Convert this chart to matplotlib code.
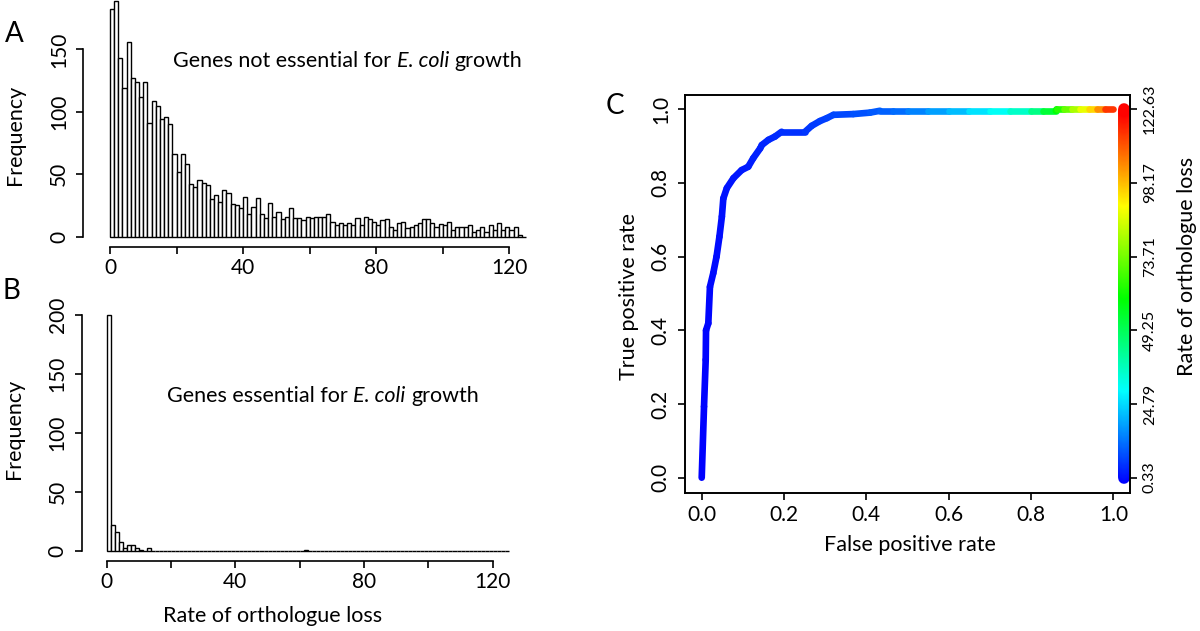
import numpy as np
import matplotlib
matplotlib.use("Agg")
import matplotlib.pyplot as plt
from matplotlib.collections import LineCollection
from matplotlib.colors import hsv_to_rgb

# ---------------- data ----------------
bin_edges = np.arange(0, 126.25, 1.25)   # 100 bins of width 1.25 from 0 to 125

counts_not_essential = [
    182, 189, 143, 119, 156, 127, 124, 112, 124, 91,
    109, 105, 94, 96, 90, 66, 52, 66, 58, 42,
    40, 45, 43, 41, 30, 33, 28, 37, 35, 26,
    25, 23, 32, 18, 24, 31, 18, 15, 27, 16,
    20, 14, 16, 23, 15, 15, 13, 16, 15, 16,
    16, 16, 18, 12, 9, 11, 9, 11, 9, 15,
    9, 16, 14, 12, 9, 13, 14, 8, 5, 11,
    12, 7, 8, 9, 11, 14, 14, 11, 8, 10,
    9, 12, 5, 8, 8, 8, 9, 4, 5, 8,
    4, 9, 5, 11, 5, 8, 5, 8, 1, 0]

counts_essential = [200, 22, 16, 7, 2, 5, 5, 2, 1, 0, 2] + [0] * 38 + [1] + [0] * 50

roc_fpr = [0.000, 0.0056, 0.0097, 0.0105, 0.016, 0.020, 0.028, 0.036, 0.043, 0.049,
           0.0525, 0.061, 0.077, 0.097, 0.113, 0.125, 0.142, 0.146, 0.162, 0.178,
           0.194, 0.251, 0.267, 0.287, 0.304, 0.320, 0.368, 0.409, 0.433, 0.465,
           0.50, 0.55, 0.60, 0.65, 0.70, 0.75, 0.80, 0.83, 0.86, 0.862,
           0.88, 0.90, 0.92, 0.94, 0.96, 0.98, 1.00]
roc_tpr = [0.000, 0.193, 0.320, 0.400, 0.419, 0.518, 0.555, 0.600, 0.654, 0.709,
           0.758, 0.786, 0.813, 0.835, 0.844, 0.867, 0.894, 0.903, 0.917, 0.926,
           0.939, 0.939, 0.955, 0.968, 0.976, 0.985, 0.987, 0.991, 0.996, 0.996,
           0.996, 0.996, 0.996, 0.996, 0.996, 0.996, 0.996, 0.996, 0.996, 1.000,
           1.000, 1.000, 1.000, 1.000, 1.000, 1.000, 1.000]
roc_rate = [0.33, 0.6, 0.8, 0.9, 1.0, 1.2, 1.4, 1.6, 1.8, 2.0,
            2.2, 2.5, 2.8, 3.2, 3.5, 3.8, 4.2, 4.4, 4.8, 5.2,
            5.6, 6.5, 7.0, 7.5, 8.0, 8.5, 9.5, 10.5, 11.5, 12.5,
            14, 18, 21, 25, 30, 34, 41, 50, 60, 62,
            70, 78, 86, 93, 101, 110, 122.63]

rate_ticks = [0.33, 24.79, 49.25, 73.71, 98.17, 122.63]
rate_min, rate_max = 0.33, 122.63

hist_xticks = [0, 20, 40, 60, 80, 100, 120]
hist_xticklabels = ["0", "", "40", "", "80", "", "120"]
roc_ticks = [0.0, 0.2, 0.4, 0.6, 0.8, 1.0]

# ---------------- style ----------------
plt.rcParams["font.family"] = ["Lato", "DejaVu Sans"]

W, H = 1200, 631
PT = 0.72  # points per pixel at dpi 100
fig = plt.figure(figsize=(12, 6.31), dpi=100)
renderer = fig.canvas.get_renderer()

TICK_FS = 15
LABEL_FS = 15.5


def rect(x0, y0, x1, y1):
    return [x0 / W, 1 - y1 / H, (x1 - x0) / W, (y1 - y0) / H]


def ftext(x, y, s, **kw):
    return fig.text(x / W, 1 - y / H, s, **kw)


def text_width(s, **kw):
    t = fig.text(0, 0, s, **kw)
    w = t.get_window_extent(renderer).width
    t.remove()
    return w


def rich_text(x, y, parts, fontsize):
    """parts: list of (string, fontstyle); strings are joined with single spaces."""
    space = (text_width("n n", fontsize=fontsize) - text_width("nn", fontsize=fontsize))
    cur = x
    for i, (s, style) in enumerate(parts):
        t = ftext(cur, y, s, fontsize=fontsize, fontstyle=style, ha="left", va="baseline")
        cur = cur + t.get_window_extent(renderer).width + space


def rate_color(v):
    f = np.clip((np.asarray(v, dtype=float) - rate_min) / (rate_max - rate_min), 0, 1)
    hsv = np.stack([(240.0 / 360.0) * (1 - f), np.ones_like(f), np.ones_like(f)], axis=-1)
    return hsv_to_rgb(hsv)


def style_hist(ax, left_out_px, bottom_out_px, ytop_tick, yticks):
    for s in ("top", "right"):
        ax.spines[s].set_visible(False)
    ax.spines["left"].set_position(("outward", left_out_px * PT))
    ax.spines["bottom"].set_position(("outward", bottom_out_px * PT))
    ax.spines["left"].set_bounds(0, ytop_tick)
    ax.spines["bottom"].set_bounds(0, 120)
    for s in ("left", "bottom"):
        ax.spines[s].set_linewidth(1.2)
    ax.set_xticks(hist_xticks)
    ax.set_xticklabels(hist_xticklabels)
    ax.set_yticks(yticks)
    ax.set_yticklabels([str(t) for t in yticks], rotation=90, va="center")
    ax.tick_params(axis="both", direction="out", length=5.2, width=1.2,
                   labelsize=TICK_FS)
    ax.tick_params(axis="x", pad=3)
    ax.tick_params(axis="y", pad=5)


# ---------------- panel A ----------------
axA = fig.add_axes(rect(110, 0, 110 + 125 * 3.328, 236.7))
axA.bar(bin_edges[:-1], counts_not_essential, width=1.25, align="edge",
        facecolor="white", edgecolor="black", linewidth=1.0, clip_on=False)
axA.set_xlim(0, 125)
axA.set_ylim(0, 189.5)
style_hist(axA, 26.7, 10.3, 150, [0, 50, 100, 150])
rich_text(173, 67, [("Genes not essential for", "normal"), ("E. coli", "italic"),
                    ("growth", "normal")], LABEL_FS)

# ---------------- panel B ----------------
axB = fig.add_axes(rect(106.7, 315, 106.7 + 125 * 3.2167, 550.7))
axB.bar(bin_edges[:-1], counts_essential, width=1.25, align="edge",
        facecolor="white", edgecolor="black", linewidth=1.0, clip_on=False)
axB.set_xlim(0, 125)
axB.set_ylim(0, 200)
style_hist(axB, 25.0, 10.3, 200, [0, 50, 100, 150, 200])
rich_text(167, 401.7, [("Genes essential for", "normal"), ("E. coli", "italic"),
                       ("growth", "normal")], LABEL_FS)

ftext(15, 135, "Frequency", rotation=90, fontsize=LABEL_FS, ha="center", va="center")
ftext(14, 429, "Frequency", rotation=90, fontsize=LABEL_FS, ha="center", va="center")
ftext(273, 616, "Rate of orthologue loss", fontsize=LABEL_FS, ha="center", va="center")
ftext(14, 34, "A", fontsize=20, ha="center", va="center")
ftext(11, 291, "B", fontsize=20, ha="center", va="center")

# ---------------- panel C ----------------
axC = fig.add_axes(rect(685, 95, 1130, 493.3))
axC.set_xlim(-0.0406, 1.0403)
axC.set_ylim(-0.0424, 1.0388)
for s in axC.spines.values():
    s.set_linewidth(1.2)

pts = np.column_stack([roc_fpr, roc_tpr])
segs = np.stack([pts[:-1], pts[1:]], axis=1)
seg_rate = 0.5 * (np.asarray(roc_rate[:-1]) + np.asarray(roc_rate[1:]))
lc = LineCollection(segs, colors=rate_color(seg_rate), linewidths=4.8,
                    capstyle="round", joinstyle="round", zorder=3)
axC.add_collection(lc)

# colour key drawn as a thick bar inside the plot at x = 1.026
key_y = np.linspace(0, 1, 300)
key_pts = np.column_stack([np.full_like(key_y, 1.026), key_y])
key_segs = np.stack([key_pts[:-1], key_pts[1:]], axis=1)
key_vals = rate_min + (rate_max - rate_min) * 0.5 * (key_y[:-1] + key_y[1:])
key_lc = LineCollection(key_segs, colors=rate_color(key_vals), linewidths=8.4,
                        capstyle="round", zorder=3)
axC.add_collection(key_lc)

axC.set_xticks(roc_ticks)
axC.set_xticklabels([f"{t:.1f}" for t in roc_ticks])
axC.set_yticks(roc_ticks)
axC.set_yticklabels([f"{t:.1f}" for t in roc_ticks], rotation=90, va="center")
axC.tick_params(axis="both", direction="out", length=5.2, width=1.2, labelsize=TICK_FS)
axC.tick_params(axis="y", pad=5)
axC.tick_params(axis="x", pad=3)

axR = axC.twinx()
axR.set_ylim(axC.get_ylim())
axR.set_yticks([(v - rate_min) / (rate_max - rate_min) for v in rate_ticks])
axR.set_yticklabels([f"{v:.2f}" for v in rate_ticks], rotation=90, va="center", ha="left")
axR.tick_params(axis="y", direction="out", length=5.2, width=1.2, labelsize=11.5, pad=4)
for s in axR.spines.values():
    s.set_linewidth(1.2)

ftext(910, 545, "False positive rate", fontsize=LABEL_FS, ha="center", va="center")
ftext(629, 297, "True positive rate", rotation=90, fontsize=LABEL_FS, ha="center", va="center")
ftext(1187, 266, "Rate of orthologue loss", rotation=90, fontsize=LABEL_FS, ha="center", va="center")
ftext(615, 106, "C", fontsize=20, ha="center", va="center")

fig.savefig("out.png", dpi=100)
